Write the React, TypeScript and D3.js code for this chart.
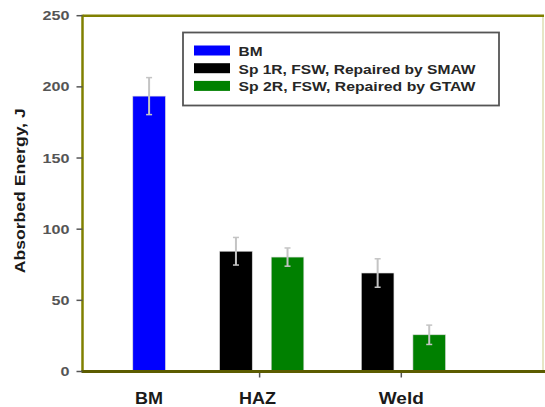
import React from "react";
import * as d3 from "d3";

const categories = ["BM", "HAZ", "Weld"];
const categoryX = [1.22, 2, 3];
const seriesNames = ["BM", "Sp 1R, FSW, Repaired by SMAW", "Sp 2R, FSW, Repaired by GTAW"];
const seriesColors = ["#0000ff", "#000000", "#008000"];
const seriesOffset = [0, -0.167, 0.197];
const bmValues = [193.5, null, null];
const bmErr = [13, null, null];
const sp1Values = [null, 84.5, 69.2];
const sp1Err = [null, 9.7, 10];
const sp2Values = [null, 80.4, 25.8];
const sp2Err = [null, 6.4, 6.8];
const yTicks = [0, 50, 100, 150, 200, 250];
const xTickValues = [2, 3];

const W = 545;
const H = 407;
const left = 82.5;
const right = 543;
const top = 15.7;
const bottom = 371.5;

export default function App() {
  const x = d3.scaleLinear().domain([0.75, 4]).range([left, right]);
  const y = d3.scaleLinear().domain([0, 250]).range([bottom, top]);
  const barW = x(0.98) - x(0.75);
  const series = [
    { values: bmValues, err: bmErr },
    { values: sp1Values, err: sp1Err },
    { values: sp2Values, err: sp2Err },
  ];
  const font = "Arial, 'Liberation Sans', sans-serif";

  return (
    <svg width={W} height={H} style={{ position: "absolute", left: 0, top: 0, background: "#fff" }} fontFamily={font}>
      {/* bars */}
      {series.map((s, si) =>
        s.values.map((v, ci) => {
          if (v == null) return null;
          const cx = x(categoryX[ci] + seriesOffset[si]);
          const e = s.err[ci] as number;
          return (
            <g key={`b${si}-${ci}`}>
              <rect x={cx - barW / 2} y={y(v)} width={barW} height={y(0) - y(v)} fill={seriesColors[si]} stroke="#d8d8d8" strokeWidth={0.6} />
              <line x1={cx} x2={cx} y1={y(v + e)} y2={y(v - e)} stroke="#c4c4c4" strokeWidth={2} />
              <line x1={cx - 3} x2={cx + 3} y1={y(v + e)} y2={y(v + e)} stroke="#c4c4c4" strokeWidth={1.5} />
              <line x1={cx - 3} x2={cx + 3} y1={y(v - e)} y2={y(v - e)} stroke="#c4c4c4" strokeWidth={1.5} />
            </g>
          );
        })
      )}

      {/* frame */}
      <line x1={right} x2={right} y1={top} y2={bottom} stroke="#d6d6a0" strokeWidth={1.2} />
      <line x1={left} x2={right + 1} y1={top} y2={top} stroke="#808000" strokeWidth={2.5} />
      <line x1={left} x2={left} y1={top - 1} y2={bottom} stroke="#808000" strokeWidth={2.5} />
      <line x1={left - 1} x2={W} y1={bottom} y2={bottom} stroke="#5c5c00" strokeWidth={3} />

      {/* y ticks */}
      {yTicks.map((t) => (
        <g key={`yt${t}`}>
          <line x1={left - 6} x2={left} y1={y(t)} y2={y(t)} stroke="#555" strokeWidth={1.5} />
          <text x={69.5} y={y(t) + 4.5} textAnchor="end" fontSize={12.5} fontWeight="bold" fill="#555" textLength={String(t).length * 9} lengthAdjust="spacingAndGlyphs">
            {t}
          </text>
        </g>
      ))}

      {/* x ticks */}
      {xTickValues.map((t) => (
        <line key={`xt${t}`} x1={x(t)} x2={x(t)} y1={bottom + 1.5} y2={bottom + 6} stroke="#555" strokeWidth={1.5} />
      ))}
      {categories.map((c, i) => (
        <text key={`xl${c}`} x={x(categoryX[i]) - (i === 1 ? 2 : 0)} y={404} textAnchor="middle" fontSize={16.5} fontWeight="bold" fill="#1a1a1a" textLength={[28, 37, 45][i]} lengthAdjust="spacingAndGlyphs">
          {c}
        </text>
      ))}

      {/* y label */}
      <text transform={`translate(24.5,190.8) rotate(-90)`} textAnchor="middle" fontSize={15.5} fontWeight="bold" fill="#1a1a1a" textLength={165} lengthAdjust="spacingAndGlyphs">
        Absorbed Energy, J
      </text>

      {/* legend */}
      <rect x={183} y={32.5} width={316} height={73} fill="#fff" stroke="#555" strokeWidth={1.8} />
      {seriesNames.map((n, i) => (
        <g key={`lg${i}`}>
          <rect x={194} y={45.5 + i * 17.7} width={36} height={10} fill={seriesColors[i]} />
          <text x={238.5} y={55.8 + i * 17.7} fontSize={13.5} fontWeight="bold" fill="#262626" textLength={i === 0 ? 24 : 237} lengthAdjust="spacingAndGlyphs">
            {n}
          </text>
        </g>
      ))}
    </svg>
  );
}
